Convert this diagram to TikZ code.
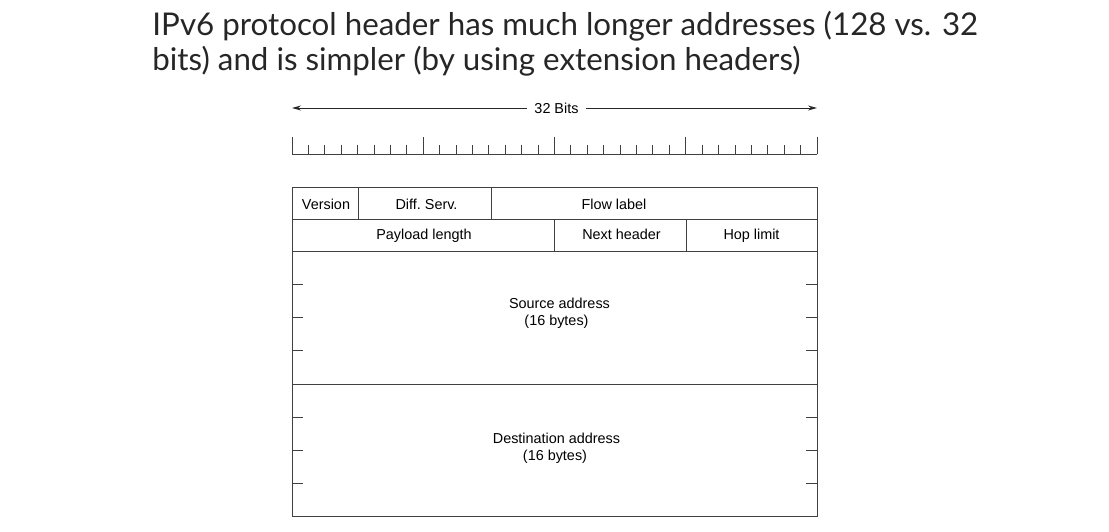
\documentclass[tikz,border=0pt]{standalone}
\usepackage{fontspec}
\setmainfont{Liberation Sans}
\newfontfamily\titlefont{Lato}
\usetikzlibrary{calc,arrows.meta}

\begin{document}
\begin{tikzpicture}[x=1pt, y=-1pt, >={Stealth[length=9pt,width=5pt]}, line width=0.9pt,
	field/.style={draw=black!75, inner sep=0pt, outer sep=0pt},
	lbl/.style={font=\fontsize{14.4}{17}\selectfont, inner sep=0pt, anchor=base},
	titletext/.style={font=\titlefont\fontsize{31.3}{35}\selectfont, inner sep=0pt, anchor=base west, text=black!85}]
	\useasboundingbox (0,0) rectangle (1109,532);

	% title
	\node[titletext] (title1) at (152,36) {IPv6 protocol header has much longer addresses (128 vs. 32};
	\node[titletext] (title2) at (152,71) {bits) and is simpler (by using extension headers)};

	% width arrow
	\coordinate (al) at (292,108);
	\coordinate (ar) at (817,108);
	\node[lbl, inner xsep=7pt] (bits) at (556.5,114) {32 Bits};
	\draw[->, black!85] (bits.west |- al) -- (al);
	\draw[->, black!85] (bits.east |- ar) -- (ar);

	% bit ruler
	\draw[black!75] (292,154.3) -- (817,154.3);
	\foreach \i in {0,...,32} {
		\pgfmathsetmacro\tick{mod(\i,8)==0 ? 17 : 9}
		\draw[black!75] (292+\i*16.40625,154.3) -- ++(0,-\tick);
	}

	% header fields
	\node[field, minimum width=66pt, minimum height=32pt] (ver) at (325,203) {};
	\node[field, minimum width=133pt, minimum height=32pt] (diff) at (424.5,203) {};
	\node[field, minimum width=326pt, minimum height=32pt] (flow) at (654,203) {};
	\node[field, minimum width=262.5pt, minimum height=32pt] (pay) at (423.25,235) {};
	\node[field, minimum width=131.5pt, minimum height=32pt] (next) at (620.25,235) {};
	\node[field, minimum width=131pt, minimum height=32pt] (hop) at (751.5,235) {};
	\node[field, minimum width=525pt, minimum height=133pt] (src) at (554.5,317.5) {};
	\node[field, minimum width=525pt, minimum height=132pt] (dst) at (554.5,450) {};

	% 32-bit word marks
	\foreach \k in {1,2,3} {
		\draw[black!75] ($(src.north west)!\k/4!(src.south west)$) -- ++(11,0);
		\draw[black!75] ($(src.north east)!\k/4!(src.south east)$) -- ++(-11,0);
		\draw[black!75] ($(dst.north west)!\k/4!(dst.south west)$) -- ++(11,0);
		\draw[black!75] ($(dst.north east)!\k/4!(dst.south east)$) -- ++(-11,0);
	}

	% field labels
	\node[lbl] (verl) at (326,209.5) {Version};
	\node[lbl] (diffl) at (426.5,209.5) {Diff.\ Serv.};
	\node[lbl] (flowl) at (614,209.5) {Flow label};
	\node[lbl] (payl) at (424,240) {Payload length};
	\node[lbl] (nextl) at (621.5,240) {Next header};
	\node[lbl] (hopl) at (751.5,240) {Hop limit};
	\node[lbl] (srcl) at (559.5,308) {Source address};
	\node[lbl] (srcb) at (556.5,325) {(16 bytes)};
	\node[lbl] (dstl) at (556.5,443) {Destination address};
	\node[lbl] (dstb) at (555,460) {(16 bytes)};
\end{tikzpicture}
\end{document}
